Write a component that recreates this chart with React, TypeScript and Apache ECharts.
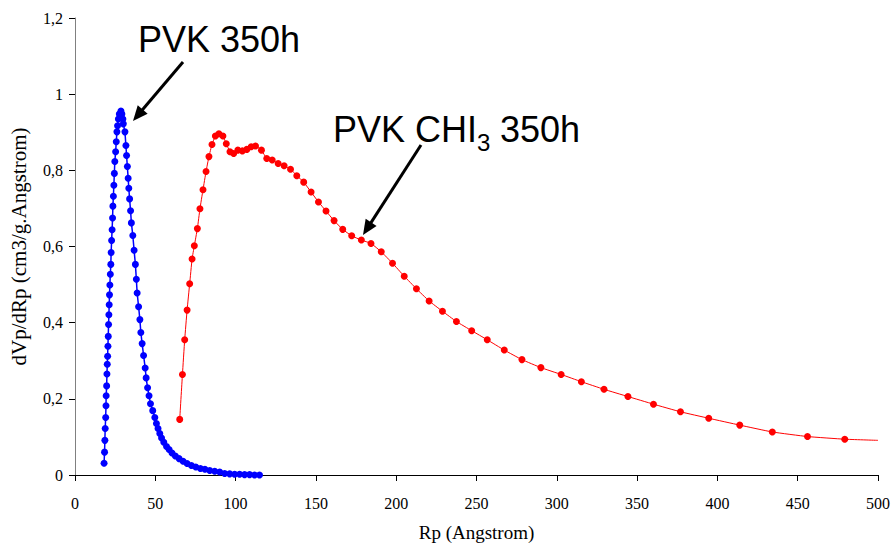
import React, { useEffect, useRef } from "react";
import * as echarts from "echarts";

// PVK 350h (blue)
const blueX = [18.1, 18.4, 18.6, 18.8, 19.1, 19.3, 19.4, 19.7, 19.9, 20.1, 20.3, 20.5, 20.7, 20.9, 21.1, 21.3, 21.5, 21.7, 22.0, 22.3, 22.5, 22.8, 23.1, 23.4, 23.6, 23.9, 24.2, 24.5, 24.8, 25.3, 25.7, 26.1, 26.5, 27.0, 27.6, 28.6,
  29.2, 29.8, 30.1, 31.1, 31.7, 32.1, 32.6, 33.1, 33.5, 34.0, 34.6, 35.1, 36.0, 36.8, 37.6, 38.2, 38.7, 39.6, 40.4, 41.0, 41.8, 42.7, 43.7, 44.3, 45.2, 46.1, 47.0, 48.4, 49.7, 50.7, 51.7, 52.8, 53.9, 55.3, 57.0, 58.6, 60.4, 62.5, 64.8, 67.3, 69.8, 72.5, 75.2, 78.1, 80.9, 83.9, 87.0, 90.1, 93.2, 96.3, 99.4, 102.5, 105.6, 108.7, 111.8, 114.9];
const blueY = [0.031, 0.060, 0.091, 0.122, 0.151, 0.182, 0.208, 0.234, 0.265, 0.291, 0.312, 0.338, 0.364, 0.395, 0.421, 0.447, 0.473, 0.499, 0.527, 0.553, 0.584, 0.616, 0.644, 0.675, 0.706, 0.732, 0.761, 0.792, 0.823, 0.849, 0.875, 0.901, 0.917, 0.935, 0.948, 0.956,
  0.948, 0.935, 0.922, 0.901, 0.865, 0.839, 0.810, 0.779, 0.753, 0.725, 0.694, 0.662, 0.629, 0.590, 0.553, 0.514, 0.478, 0.442, 0.408, 0.374, 0.345, 0.314, 0.281, 0.255, 0.229, 0.208, 0.187, 0.169, 0.151, 0.135, 0.122, 0.109, 0.097, 0.086, 0.075, 0.067, 0.058, 0.050, 0.043, 0.036, 0.030, 0.025, 0.021, 0.017, 0.015, 0.012, 0.010, 0.008, 0.004, 0.003, 0.002, 0.002, 0.001, 0.001, 0, 0];

// PVK CHI3 350h (red); last point is the line end without marker
const redX = [65.2, 66.9, 68.3, 69.8, 71.4, 72.9, 74.3, 76.2, 77.8, 79.7, 81.6, 83.4, 85.3, 87.4, 89.6, 92.1, 94.2, 96.5, 98.8, 101.4, 104.2, 107.0, 109.7, 112.4, 116.1, 119.4, 122.8, 126.5, 130.2, 134.2, 138.1, 142.4, 147.0, 151.6, 156.3, 161.3, 166.7, 172.3, 178.3, 184.3, 190.7, 197.7, 205.0, 212.6, 220.5, 228.8, 237.5, 247.0, 256.7, 267.3, 278.3, 290.1, 302.7, 315.3, 329.4, 344.3, 360.2, 377.0, 394.6, 413.9, 434.2, 456.1, 479.3, 500];
const redY = [0.146, 0.264, 0.355, 0.433, 0.502, 0.567, 0.602, 0.647, 0.699, 0.749, 0.797, 0.836, 0.868, 0.890, 0.896, 0.890, 0.870, 0.849, 0.844, 0.853, 0.851, 0.855, 0.862, 0.864, 0.853, 0.831, 0.827, 0.818, 0.812, 0.803, 0.786, 0.769, 0.743, 0.717, 0.693, 0.668, 0.645, 0.628, 0.617, 0.608, 0.586, 0.556, 0.522, 0.489, 0.457, 0.430, 0.403, 0.379, 0.355, 0.328, 0.303, 0.282, 0.264, 0.245, 0.225, 0.206, 0.186, 0.166, 0.149, 0.131, 0.113, 0.101, 0.094, 0.091];

const xTitle = "Rp (Angstrom)";
const yTitle = "dVp/dRp (cm3/g.Angstrom)";

const SERIF = '"Times New Roman", "Liberation Serif", serif';
const SANS = 'Arial, "Liberation Sans", sans-serif';

function arrow(x1: number, y1: number, x2: number, y2: number) {
  const dx = x2 - x1;
  const dy = y2 - y1;
  const len = Math.sqrt(dx * dx + dy * dy);
  const ux = dx / len;
  const uy = dy / len;
  const hl = 15;
  const hw = 6.5;
  const bx = x2 - ux * hl;
  const by = y2 - uy * hl;
  return [
    {
      type: "line",
      shape: { x1, y1, x2: bx + ux * 2, y2: by + uy * 2 },
      style: { stroke: "#000", lineWidth: 3 },
    },
    {
      type: "polygon",
      shape: {
        points: [
          [x2, y2],
          [bx - uy * hw, by + ux * hw],
          [bx + uy * hw, by - ux * hw],
        ],
      },
      style: { fill: "#000" },
    },
  ];
}

export default function App() {
  const ref = useRef<HTMLDivElement>(null);
  useEffect(() => {
    if (!ref.current) return;
    const chart = echarts.init(ref.current, undefined, { renderer: "svg" });
    const blueData = blueX.map((x, i) => [x, blueY[i]]);
    const redData = redX.map((x, i) => [x, redY[i]]);
    chart.setOption({
      animation: false,
      backgroundColor: "#fff",
      grid: { left: 75, top: 18, width: 805, height: 462, containLabel: false },
      xAxis: {
        type: "value",
        min: 0,
        max: 500,
        interval: 50,
        name: xTitle,
        nameLocation: "middle",
        nameGap: 48,
        nameTextStyle: { fontFamily: SERIF, fontSize: 19, color: "#000" },
        axisLine: { show: true, onZero: false, lineStyle: { color: "#000", width: 1 } },
        axisTick: { show: true, inside: false, length: 6, lineStyle: { color: "#000" } },
        axisLabel: { margin: 20, fontFamily: SERIF, fontSize: 16, color: "#000" },
        splitLine: { show: false },
      },
      yAxis: {
        type: "value",
        min: 0,
        max: 1.2,
        interval: 0.2,
        name: yTitle,
        nameLocation: "middle",
        nameGap: 46,
        nameTextStyle: { fontFamily: SERIF, fontSize: 21, color: "#000" },
        axisLine: { show: true, lineStyle: { color: "#808080", width: 1 } },
        axisTick: { show: true, inside: false, length: 6, lineStyle: { color: "#000" } },
        axisLabel: {
          margin: 12,
          fontFamily: SERIF,
          fontSize: 16,
          color: "#000",
          formatter: (v: number) => String(Math.round(v * 10) / 10).replace(".", ","),
        },
        splitLine: { show: false },
      },
      series: [
        {
          name: "PVK 350h",
          type: "line",
          data: blueData,
          symbol: "circle",
          symbolSize: 7,
          itemStyle: { color: "#0000ff" },
          lineStyle: { color: "#0000ff", width: 1.5 },
          z: 3,
        },
        {
          name: "PVK CHI3 350h",
          type: "line",
          data: redData,
          symbol: "circle",
          symbolSize: (v: number[]) => (v[0] >= 500 ? 0 : 7),
          smooth: 0.15,
          itemStyle: { color: "#ff0000" },
          lineStyle: { color: "#ff0000", width: 1 },
          z: 2,
        },
      ],
      graphic: [
        {
          type: "text",
          x: 138,
          y: 39,
          style: { text: "PVK 350h", fontFamily: SANS, fontSize: 36, fill: "#000", verticalAlign: "middle", align: "left" },
        },
        {
          type: "text",
          x: 333,
          y: 129,
          style: { text: "PVK CHI", fontFamily: SANS, fontSize: 36, fill: "#000", verticalAlign: "middle", align: "left" },
        },
        {
          type: "text",
          x: 477,
          y: 142,
          style: { text: "3", fontFamily: SANS, fontSize: 24, fill: "#000", verticalAlign: "middle", align: "left" },
        },
        {
          type: "text",
          x: 500,
          y: 129,
          style: { text: "350h", fontFamily: SANS, fontSize: 36, fill: "#000", verticalAlign: "middle", align: "left" },
        },
        ...arrow(183, 62, 133, 121),
        ...arrow(421, 145, 363, 235),
      ],
    });
    return () => chart.dispose();
  }, []);
  return (
    <div
      ref={ref}
      style={{ position: "fixed", left: 0, top: 0, width: 893, height: 547 }}
    />
  );
}
